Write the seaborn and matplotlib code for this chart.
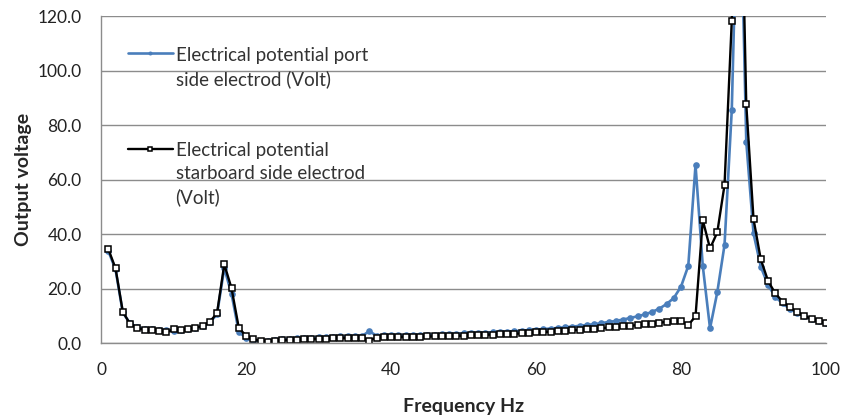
import numpy as np
import pandas as pd
import matplotlib
matplotlib.use("Agg")
import matplotlib.pyplot as plt
import seaborn as sns

# frequency steps (Hz)
freq = list(range(1, 101))

# port side electrode (blue)
port_volt = [
    33.8, 27.0, 11.2, 7.2, 5.8, 5.2, 5.0, 4.9, 4.8, 4.5,
    4.8, 5.2, 5.6, 6.2, 7.6, 10.5, 27.5, 18.0, 4.2, 1.8,
    1.0, 0.8, 0.9, 1.2, 1.4, 1.6, 1.8, 1.9, 2.0, 2.1,
    2.2, 2.3, 2.4, 2.5, 2.5, 2.6, 4.3, 2.7, 2.8, 2.8,
    2.9, 2.9, 3.0, 3.0, 3.1, 3.1, 3.2, 3.3, 3.4, 3.5,
    3.6, 3.7, 3.8, 3.9, 4.0, 4.2, 4.3, 4.5, 4.7, 4.9,
    5.1, 5.3, 5.5, 5.8, 6.0, 6.3, 6.6, 6.9, 7.3, 7.7,
    8.1, 8.6, 9.2, 9.8, 10.5, 11.4, 12.6, 14.3, 16.5, 20.7,
    28.3, 65.3, 28.3, 5.4, 18.6, 36.0, 85.5, 190.0, 73.9, 40.2,
    28.0, 21.3, 17.0, 14.5, 12.6, 11.0, 9.8, 8.7, 8.0, 7.4,
]

# starboard side electrode (black)
starboard_volt = [
    34.5, 27.4, 11.5, 7.0, 5.5, 4.8, 4.8, 4.5, 3.9, 5.0,
    4.8, 5.3, 5.6, 6.2, 7.8, 10.9, 28.9, 20.1, 5.6, 2.6,
    1.3, 0.9, 0.5, 0.8, 1.0, 1.1, 1.2, 1.3, 1.4, 1.5,
    1.6, 1.7, 1.8, 1.8, 1.9, 1.9, 0.9, 2.0, 2.1, 2.1,
    2.2, 2.2, 2.3, 2.3, 2.4, 2.4, 2.5, 2.6, 2.6, 2.7,
    2.8, 2.9, 3.0, 3.1, 3.2, 3.3, 3.4, 3.5, 3.7, 3.9,
    4.0, 4.2, 4.3, 4.5, 4.7, 4.8, 5.0, 5.2, 5.4, 5.7,
    5.9, 6.1, 6.3, 6.6, 6.9, 7.1, 7.4, 7.8, 8.1, 8.0,
    6.6, 9.8, 45.1, 34.7, 40.6, 58.0, 118.3, 210.0, 87.6, 45.5,
    30.7, 22.8, 18.2, 15.2, 13.1, 11.3, 10.0, 8.8, 8.1, 7.5,
]

port_label = "Electrical potential port\nside electrod (Volt)"
starboard_label = "Electrical potential\nstarboard side electrod\n(Volt)"

sns.set_style("white")
plt.rcParams["font.family"] = ["Lato", "DejaVu Sans"]

fig = plt.figure(figsize=(8.44, 4.18), dpi=100)
ax = fig.add_axes([0.1197, 0.1794, 0.859, 0.7823])

sns.lineplot(x=freq, y=port_volt, ax=ax, color="#4A7EBB", linewidth=1.9,
             marker="o", markersize=4.8, markeredgewidth=0, label=port_label)
sns.lineplot(x=freq, y=starboard_volt, ax=ax, color="black", linewidth=1.7,
             marker="s", markersize=4.0, markerfacecolor="white",
             markeredgecolor="black", markeredgewidth=1.1, label=starboard_label)

ax.set_xlim(0, 100)
ax.set_ylim(0, 120)
ax.set_xticks(np.arange(0, 101, 20))
ax.set_yticks(np.arange(0, 121, 20))
ax.set_yticklabels([f"{v:.1f}" for v in np.arange(0, 121, 20)])
ax.yaxis.grid(True, color="#8c8c8c", linewidth=1)
ax.xaxis.grid(False)
for s in ["top", "right"]:
    ax.spines[s].set_visible(False)
for s in ["left", "bottom"]:
    ax.spines[s].set_color("#8c8c8c")
    ax.spines[s].set_linewidth(1)
ax.tick_params(axis="both", direction="out", length=5, width=1, color="#8c8c8c",
               labelsize=12.5, labelcolor="#222222")
ax.tick_params(axis="y", pad=9)
ax.tick_params(axis="x", pad=9)

ax.set_xlabel("Frequency Hz", fontsize=14, fontweight="bold", labelpad=14)
ax.set_ylabel("Output voltage", fontsize=14, fontweight="bold", labelpad=4)

leg = ax.legend(loc="upper left", bbox_to_anchor=(0.024, 0.935), frameon=False,
                fontsize=13.5, handlelength=2.4, handletextpad=0.15,
                labelspacing=2.9, borderpad=0, markerscale=0.6)
for t in leg.get_texts():
    t.set_color("#333333")
    t.set_linespacing(1.42)
# put each legend line next to the first line of its label, as in the source chart
for col in leg._legend_handle_box.get_children():
    for row in col.get_children():
        row.align = "top"

fig.savefig("out.png", dpi=100)
